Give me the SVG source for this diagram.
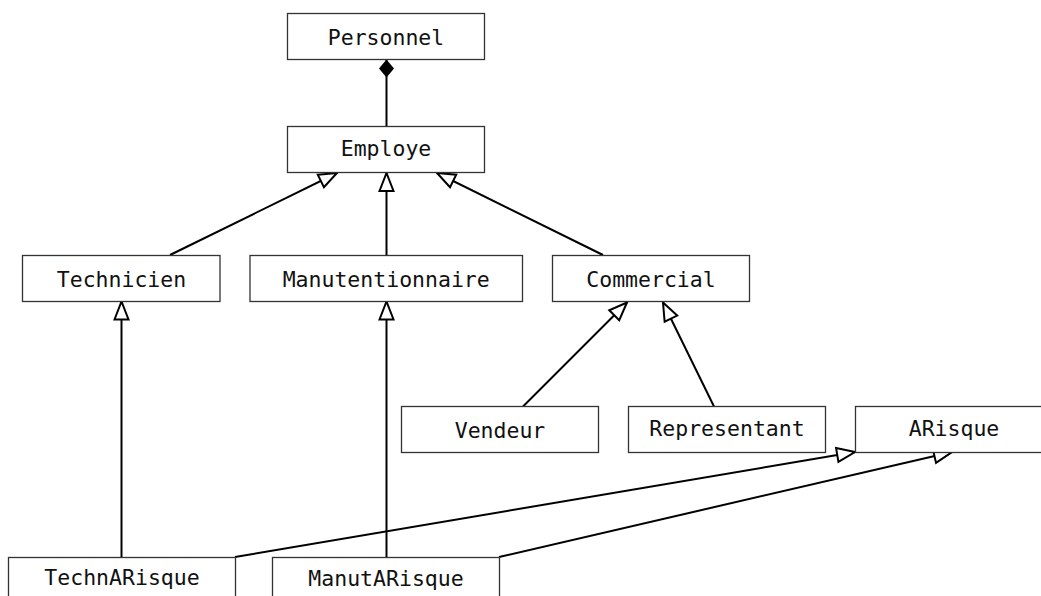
<svg xmlns="http://www.w3.org/2000/svg" width="1041" height="596" viewBox="0 0 1041 596">
<style>
.box{fill:#fff;stroke:#333;stroke-width:1.3}
.lbl{font-family:"DejaVu Sans Mono","Liberation Mono",monospace;font-size:21.5px;fill:#111;text-anchor:middle}
.gen{stroke:#000;stroke-width:2;fill:none;marker-end:url(#tri)}
.comp{stroke:#000;stroke-width:2;fill:none;marker-start:url(#dia)}
</style>
<defs>
<marker id="tri" markerUnits="userSpaceOnUse" viewBox="-2 -2 22 18" markerWidth="22" markerHeight="18" refX="18" refY="7" orient="auto">
<path d="M0,0 L18,7 L0,14 Z" fill="#fff" stroke="#000" stroke-width="2" stroke-linejoin="miter"/>
</marker>
<marker id="dia" markerUnits="userSpaceOnUse" viewBox="-1 -1 20 17" markerWidth="20" markerHeight="17" refX="0" refY="7.5" orient="auto">
<path d="M0,7.5 L9,0 L18,7.5 L9,15 Z" fill="#000"/>
</marker>
</defs>
<g id="connectors">
<line class="comp" x1="386.5" y1="59.5" x2="386.5" y2="127"/>
<line class="gen" x1="170" y1="255" x2="337" y2="173"/>
<line class="gen" x1="386.5" y1="255" x2="386.5" y2="173"/>
<line class="gen" x1="603" y1="255" x2="437" y2="173"/>
<line class="gen" x1="121.5" y1="557" x2="121.5" y2="301.5"/>
<line class="gen" x1="386.5" y1="557" x2="386.5" y2="301.5"/>
<line class="gen" x1="523" y1="406.5" x2="627" y2="302.5"/>
<line class="gen" x1="714" y1="406.5" x2="663" y2="302.5"/>
<line class="gen" x1="235" y1="557" x2="855" y2="452"/>
<line class="gen" x1="499" y1="557" x2="952" y2="452"/>
</g>
<g id="Personnel"><rect class="box" x="287.5" y="13.5" width="197" height="46"/><text class="lbl" x="386" y="45">Personnel</text></g>
<g id="Employe"><rect class="box" x="287.5" y="126.5" width="197" height="46"/><text class="lbl" x="386" y="156">Employe</text></g>
<g id="Technicien"><rect class="box" x="22.5" y="255.5" width="197.5" height="46"/><text class="lbl" x="121.5" y="286.7">Technicien</text></g>
<g id="Manutentionnaire"><rect class="box" x="250" y="255.5" width="272.5" height="46"/><text class="lbl" x="386.2" y="286.7">Manutentionnaire</text></g>
<g id="Commercial"><rect class="box" x="552.5" y="255.5" width="197" height="46"/><text class="lbl" x="651" y="286.7">Commercial</text></g>
<g id="Vendeur"><rect class="box" x="401.5" y="406.5" width="197" height="46"/><text class="lbl" x="500" y="437.7">Vendeur</text></g>
<g id="Representant"><rect class="box" x="628.5" y="406.5" width="197" height="46"/><text class="lbl" x="727" y="435.7">Representant</text></g>
<g id="ARisque"><rect class="box" x="855.5" y="406.5" width="197" height="46"/><text class="lbl" x="954" y="435.7">ARisque</text></g>
<g id="TechnARisque"><rect class="box" x="8.5" y="557.5" width="227" height="46"/><text class="lbl" x="122" y="585">TechnARisque</text></g>
<g id="ManutARisque"><rect class="box" x="272.5" y="557.5" width="227" height="46"/><text class="lbl" x="386" y="586">ManutARisque</text></g>
</svg>
